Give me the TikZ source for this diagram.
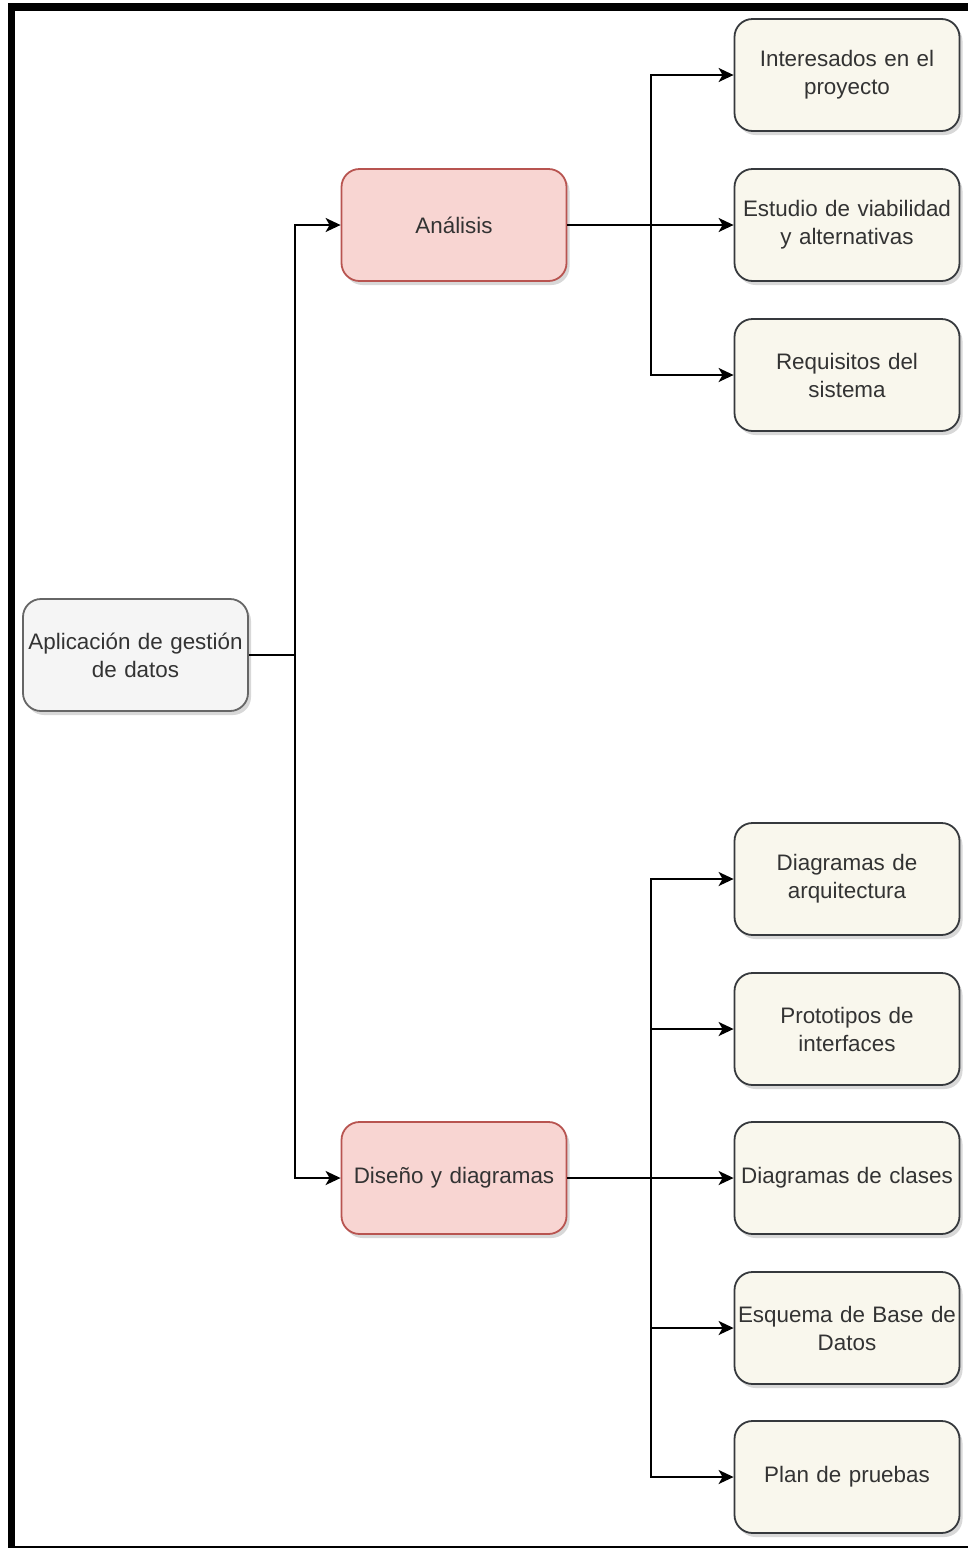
\documentclass[tikz,border=0pt]{standalone}
\usepackage{fontspec}
\setmainfont{Liberation Sans}
\usetikzlibrary{arrows.meta,shadows,positioning}
\definecolor{rootfill}{HTML}{F5F5F5}
\definecolor{rootline}{HTML}{666666}
\definecolor{phasefill}{HTML}{F8D5D2}
\definecolor{phaseline}{HTML}{B85450}
\definecolor{taskfill}{HTML}{F9F7ED}
\definecolor{taskline}{HTML}{36393D}
\definecolor{txt}{HTML}{333333}
\tikzset{
  box/.style={draw, line width=1.8pt, rounded corners=18pt, minimum width=225pt,
    minimum height=112pt, text width=224pt, align=center, inner sep=0pt,
    font=\fontsize{22.4}{28}\selectfont, text=txt,
    drop shadow={shadow xshift=3pt, shadow yshift=-4pt, opacity=0.25, fill=black!60}},
  rootbox/.style={box, fill=rootfill, draw=rootline},
  phasebox/.style={box, fill=phasefill, draw=phaseline},
  taskbox/.style={box, fill=taskfill, draw=taskline},
  link/.style={line width=1.9pt, -{Stealth[length=15pt,width=14pt,inset=4pt]}},
  plain/.style={line width=1.9pt}
}
\begin{document}
\begin{tikzpicture}[x=1pt,y=-1pt]
\useasboundingbox (0,0) rectangle (968,1548);
\fill[white] (0,0) rectangle (968,1548);
% frame
\fill[black] (8,3) rectangle (968,11);
\fill[black] (8,3) rectangle (15,1548);
\draw[line width=1.5pt] (15,1547) -- (968,1547);

% nodes
\node[rootbox] (root) at (135.5,655) {Aplicación de gestión\\de datos};
\node[phasebox] (ana) at (454,225) {Análisis};
\node[phasebox] (dis) at (454,1178) {Diseño y diagramas};

\node[taskbox] (t1) at (847,75) {Interesados en el\\proyecto};
\node[taskbox] (t2) at (847,225) {Estudio de viabilidad\\y alternativas};
\node[taskbox] (t3) at (847,375) {Requisitos del\\sistema};

\node[taskbox] (d1) at (847,879) {Diagramas de\\arquitectura};
\node[taskbox] (d2) at (847,1029) {Prototipos de\\interfaces};
\node[taskbox] (d3) at (847,1178) {Diagramas de clases};
\node[taskbox] (d4) at (847,1328) {Esquema de Base de\\Datos};
\node[taskbox] (d5) at (847,1477) {Plan de pruebas};

% connectors
\coordinate (rj) at (295,655);
\draw[plain] (root.east) -- (rj);
\draw[link] (rj) |- (ana.west);
\draw[link] (rj) |- (dis.west);

\coordinate (aj) at (651,225);
\draw[link] (ana.east) -- (t2.west);
\draw[link] (aj) |- (t1.west);
\draw[link] (aj) |- (t3.west);

\coordinate (dj) at (651,1178);
\draw[link] (dis.east) -- (d3.west);
\draw[link] (dj) |- (d1.west);
\draw[link] (dj) |- (d2.west);
\draw[link] (dj) |- (d4.west);
\draw[link] (dj) |- (d5.west);
\end{tikzpicture}
\end{document}
